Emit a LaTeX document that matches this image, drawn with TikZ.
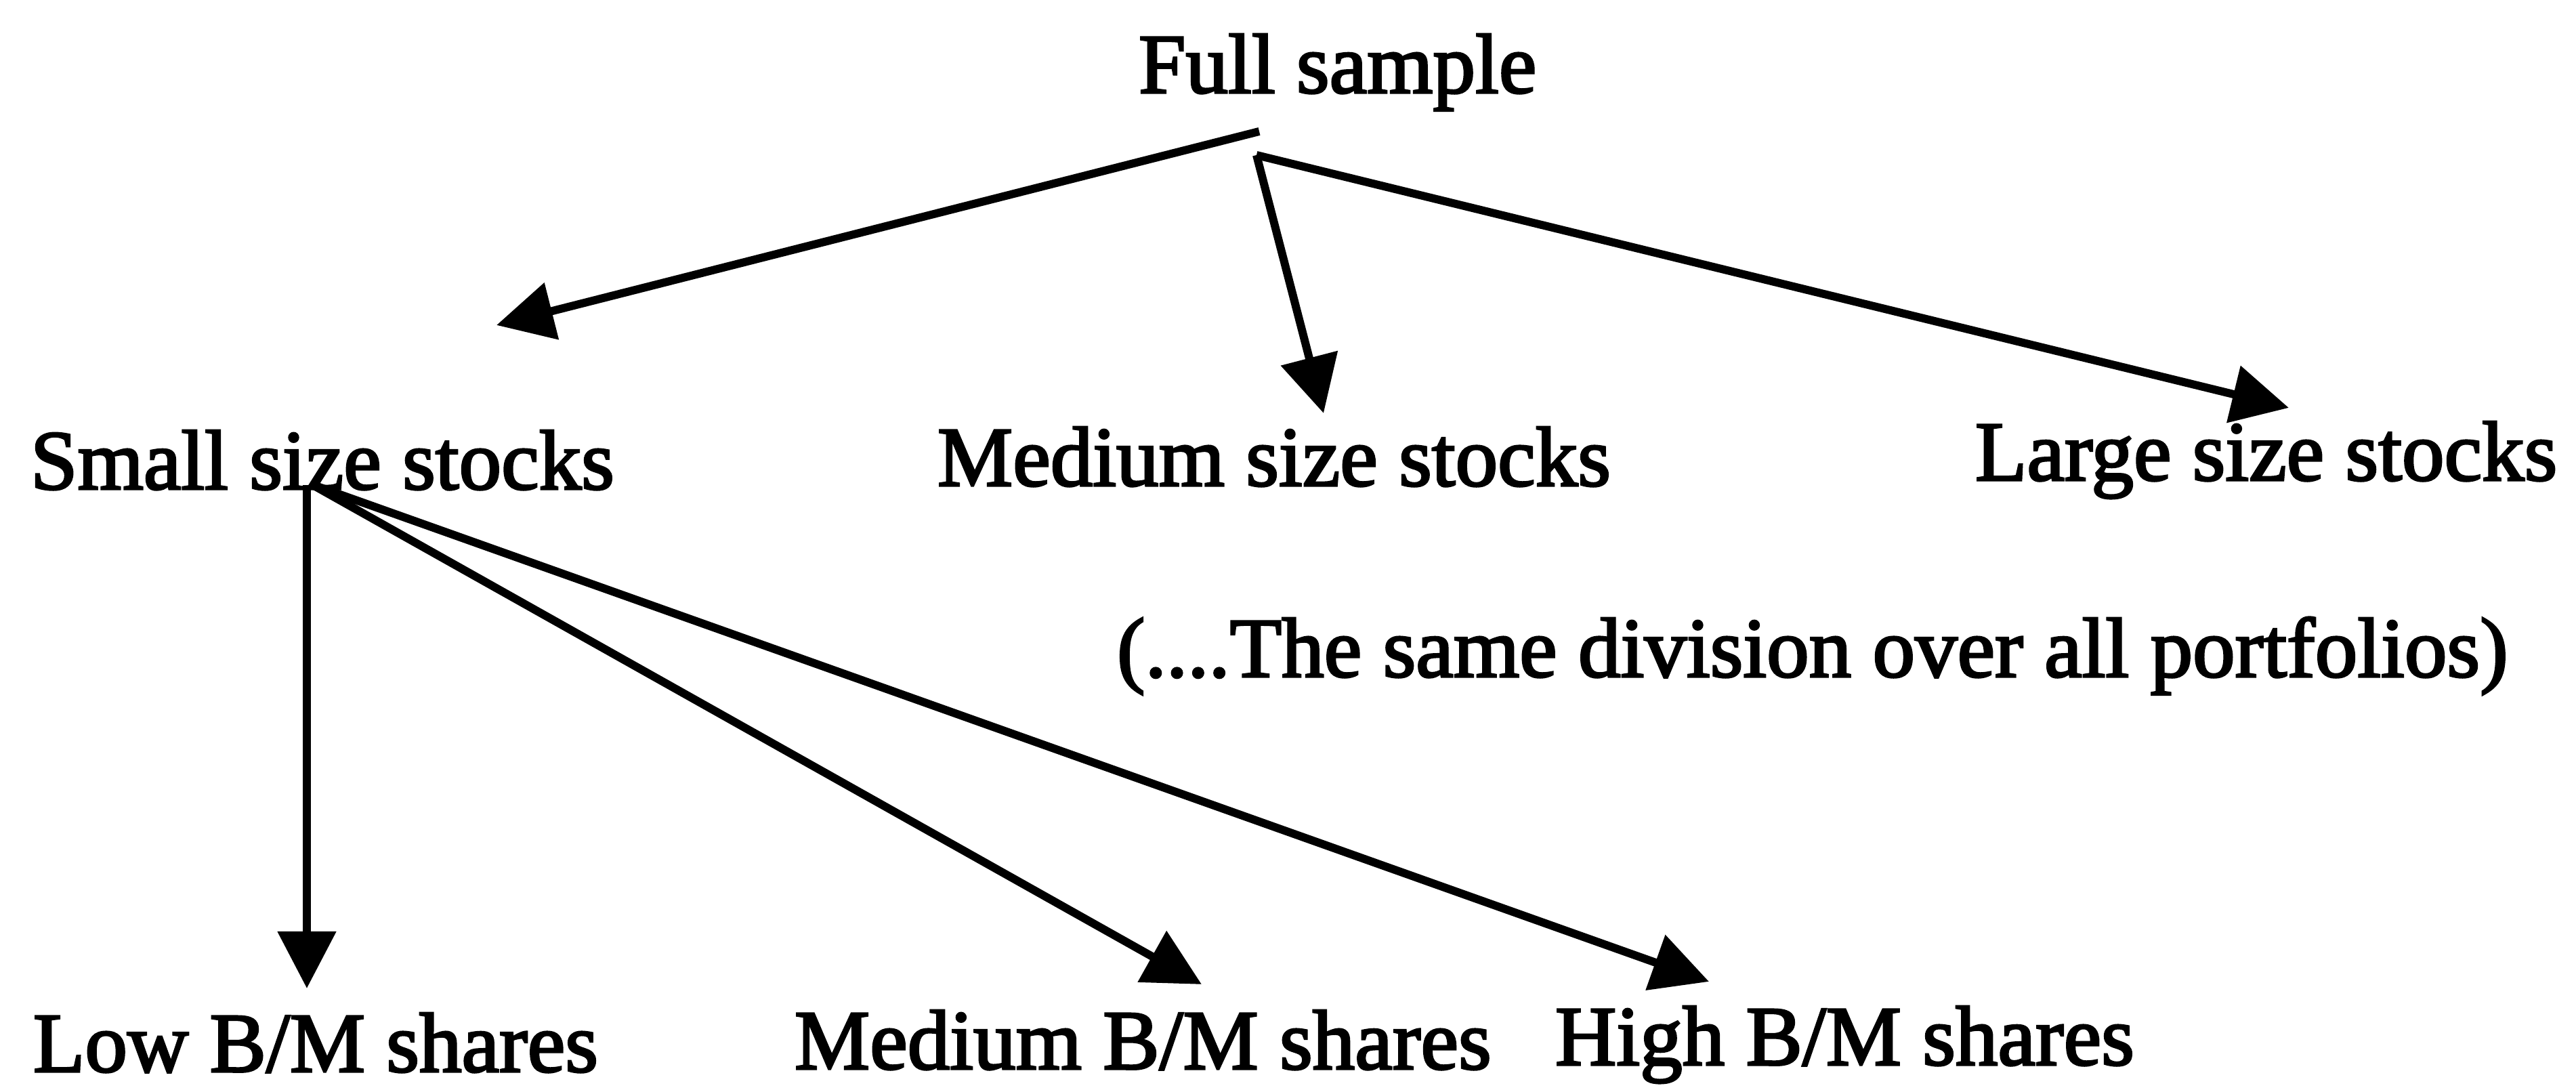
\documentclass[tikz,border=0pt]{standalone}
\usepackage{fontspec}
\setmainfont{Liberation Serif}
\newfontfamily\thickserif[FakeBold=2.5]{Liberation Serif}
\usetikzlibrary{arrows.meta}
\tikzset{
  lbl/.style={inner sep=0pt, outer sep=0pt, anchor=base west, font=\thickserif\fontsize{35.6}{40}\selectfont},
  arr/.style={line width=0.12cm, -{Triangle[length=0.84cm, width=0.84cm]}},
}
\begin{document}
\begin{tikzpicture}
\useasboundingbox (0,0) rectangle (38.03,16.09);
% text nodes
\node[lbl] (full)   at (16.81,14.72) {Full sample};
\node[lbl] (small)  at (0.45,8.87)   {Small size stocks};
\node[lbl] (medium) at (13.84,8.92)  {Medium size stocks};
\node[lbl] (large)  at (29.16,9.00)  {Large size stocks};
\node[lbl] (note)   at (16.49,6.10)  {(....The same division over all portfolios)};
\node[lbl] (low)    at (0.49,0.27)   {Low B/M shares};
\node[lbl] (medbm)  at (11.73,0.31)  {Medium B/M shares};
\node[lbl] (high)   at (22.96,0.37)  {High B/M shares};
% connector end points
\coordinate (fsA) at (18.59,14.15);
\coordinate (fsB) at (18.55,13.80);
\coordinate (tSmall) at (7.33,11.29);
\coordinate (tMedium) at (19.54,9.99);
\coordinate (tLarge) at (33.79,10.07);
\coordinate (smA) at (4.53,8.93);
\coordinate (smB) at (4.60,8.94);
\coordinate (tLow) at (4.53,1.50);
\coordinate (tMedbm) at (17.74,1.56);
\coordinate (tHigh) at (25.23,1.60);
% connectors
\draw[arr] (fsA) -- (tSmall);
\draw[arr] (fsB) -- (tMedium);
\draw[arr] (fsB) -- (tLarge);
\draw[arr] (smA) -- (tLow);
\draw[arr] (smB) -- (tMedbm);
\draw[arr] (smB) -- (tHigh);
\end{tikzpicture}
\end{document}
